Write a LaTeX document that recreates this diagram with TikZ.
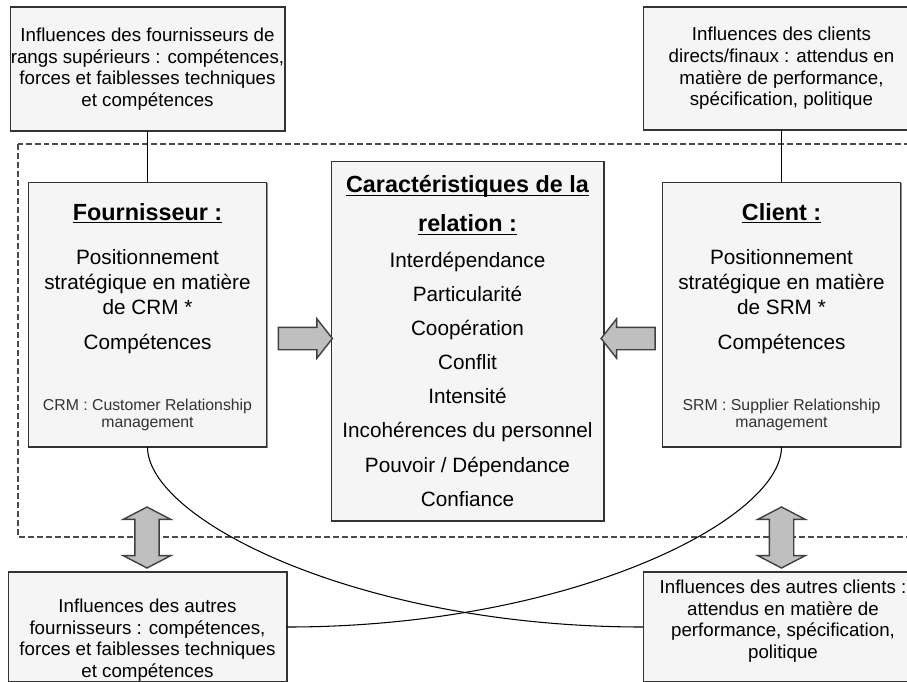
\documentclass[tikz,border=0pt]{standalone}
\usepackage{fontspec}
\setmainfont{Liberation Sans}
\usetikzlibrary{shapes.arrows,shadows}

\newcommand{\titlefont}{\fontsize{13.3}{16}\selectfont\bfseries}
\newcommand{\notefont}{\fontsize{9}{10.2}\selectfont\color{black!80}}
\newcommand{\titleline}[1]{{\titlefont\setbox0\hbox{#1}\rlap{\rule[-1.8pt]{\wd0}{0.7pt}}\box0}}

\begin{document}
\begin{tikzpicture}[x=0.02cm,y=-0.02cm,inner sep=0pt,outer sep=0pt,
infobox/.style={draw=black!80,fill=black!4,line width=0.6pt,rectangle,align=center,
  drop shadow={shadow xshift=0.7pt,shadow yshift=-0.7pt,fill=black!45,opacity=1},
  font=\fontsize{10.66}{12.3}\selectfont},
actorbox/.style={infobox,font=\fontsize{11.8}{14.1}\selectfont,minimum width=4.77cm,minimum height=5.3cm,text height=131pt},
flowarrow/.style={draw=black!75,fill=black!25,line width=0.8pt,single arrow,minimum height=1.08cm,
  inner xsep=0pt,inner ysep=0.21cm,single arrow head extend=0.17cm,single arrow tip angle=103.6},
swaparrow/.style={draw=black!75,fill=black!25,line width=0.8pt,double arrow,minimum height=1.22cm,
  inner xsep=0pt,inner ysep=0.23cm,double arrow head extend=0.23cm,double arrow tip angle=125,rotate=90},
link/.style={black,line width=0.6pt}]

\useasboundingbox (0,0) rectangle (907,681);
\clip (0,0) rectangle (907,681);

% dashed frame round the relation
\draw[black!70,line width=0.6pt,dash pattern=on 3.4pt off 1.7pt] (18,144) rectangle (940,537);

\draw (147.5,69) node[infobox,minimum width=5.5cm,minimum height=2.48cm] (supfourn)
  {Influences des fournisseurs de\\rangs supérieurs : compétences,\\forces et faiblesses techniques\\et compétences};
\draw (781.5,68.5) node[infobox,minimum width=5.52cm,minimum height=2.46cm] (supclient)
  {Influences des clients\\directs/finaux : attendus en\\matière de performance,\\spécification, politique};

\draw (147.5,314.5) node[actorbox] (fourn)
  {\titleline{Fournisseur :}\\[11.4pt]
   Positionnement\\stratégique en matière\\de CRM *\\[5.7pt]
   Compétences\\[20.5pt]
   {\notefont CRM : Customer Relationship}\\[-3.9pt]
   {\notefont management}};
\draw (781.5,314.5) node[actorbox] (client)
  {\titleline{Client :}\\[11.4pt]
   Positionnement\\stratégique en matière\\de SRM *\\[5.7pt]
   Compétences\\[20.5pt]
   {\notefont SRM : Supplier Relationship}\\[-3.9pt]
   {\notefont management}};

\draw (467.5,341) node[infobox,font=\fontsize{11.8}{19.4}\selectfont,minimum width=5.46cm,minimum height=7.2cm] (rel)
  {\titleline{Caractéristiques de la}\\[2.7pt]
   \titleline{relation :}\\[1pt]
   Interdépendance\\Particularité\\Coopération\\Conflit\\Intensité\\
   Incohérences du personnel\\Pouvoir / Dépendance\\Confiance};

\draw (147.5,627) node[infobox,minimum width=5.58cm,minimum height=2.2cm,text height=59.4pt] (autfourn)
  {Influences des autres\\fournisseurs : compétences,\\forces et faiblesses techniques\\et compétences};
\draw (783,627) node[infobox,minimum width=5.6cm,minimum height=2.2cm,text depth=9.1pt] (autclient)
  {Influences des autres clients :\\attendus en matière de\\performance, spécification,\\politique};

\draw[link] (supfourn.south) -- (fourn.north);
\draw[link] (supclient.south) -- (client.north);
\draw[link] (fourn.south) .. controls +(0,73) and +(-283,0) .. (autclient.west);
\draw[link] (client.south) .. controls +(0,73) and +(283,0) .. (autfourn.east);

\node[flowarrow] (arrfourn) at (301,338.5) {};
\node[flowarrow,rotate=180] (arrclient) at (632.5,338.5) {};
\node[swaparrow] (swapfourn) at (147,537.5) {};
\node[swaparrow] (swapclient) at (781.5,537.5) {};
\end{tikzpicture}
\end{document}
